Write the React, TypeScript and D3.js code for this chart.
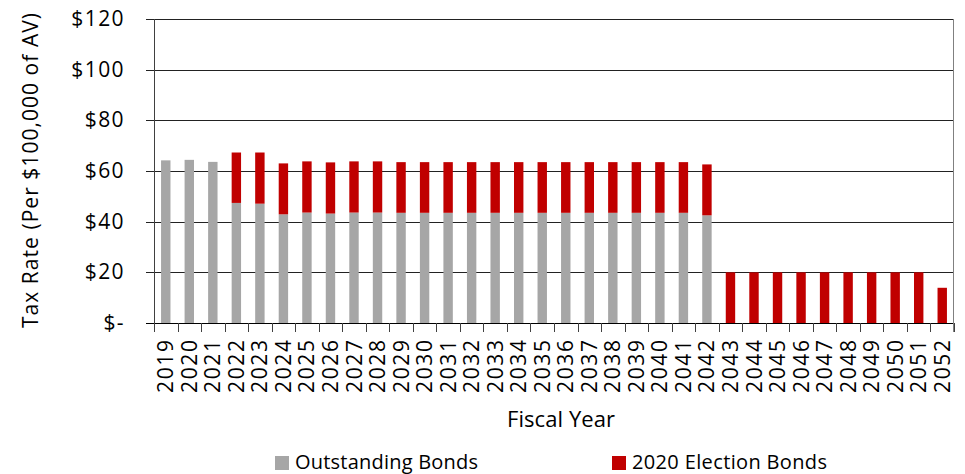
import React from "react";
import * as d3 from "d3";

const years: string[] = [
  "2019","2020","2021","2022","2023","2024","2025","2026","2027","2028","2029","2030",
  "2031","2032","2033","2034","2035","2036","2037","2038","2039","2040","2041","2042",
  "2043","2044","2045","2046","2047","2048","2049","2050","2051","2052",
];
const outstanding: number[] = [
  64.2, 64.4, 63.6, 47.4, 47.1, 42.9, 43.6, 43.2, 43.6, 43.6, 43.5, 43.5,
  43.5, 43.5, 43.5, 43.5, 43.5, 43.5, 43.5, 43.5, 43.5, 43.5, 43.5, 42.5,
  0, 0, 0, 0, 0, 0, 0, 0, 0, 0,
];
const election: number[] = [
  0, 0, 0, 19.9, 20.2, 20.1, 20.2, 20.2, 20.2, 20.2, 20.0, 20.0,
  20.0, 20.0, 20.0, 20.0, 20.0, 20.0, 20.0, 20.0, 20.0, 20.0, 20.0, 20.1,
  20.0, 20.0, 20.0, 20.0, 20.0, 20.0, 20.0, 20.0, 20.0, 13.9,
];
const yTicks: number[] = [0, 20, 40, 60, 80, 100, 120];
const yTickLabels: string[] = ["$-", "$20", "$40", "$60", "$80", "$100", "$120"];
const seriesNames: string[] = ["Outstanding Bonds", "2020 Election Bonds"];
const seriesColors: string[] = ["#A6A6A6", "#C00000"];

const FONT = "'Open Sans', 'Noto Sans', sans-serif";

export default function App() {
  const W = 965, H = 474;
  const left = 154, right = 954, top = 19, bottom = 323;
  const x = d3.scaleBand<string>().domain(years).range([left, right]).paddingInner(0.6).paddingOuter(0.3);
  const y = d3.scaleLinear().domain([0, 120]).range([bottom, top]);
  const step = x.step();
  const data = years.map((yr, i) => ({ year: yr, outstanding: outstanding[i], election: election[i] }));
  const stack = d3.stack<any>().keys(["outstanding", "election"])(data);

  return (
    <svg width={W} height={H} style={{ position: "absolute", left: 0, top: 0, fontFamily: FONT }}>
      <rect width={W} height={H} fill="#fff" />
      {yTicks.map((t) => (
        <line key={"g" + t} x1={left - 8} x2={right} y1={Math.round(y(t)) + 0.5} y2={Math.round(y(t)) + 0.5}
          stroke={t === 0 ? "#000" : "#222"} strokeWidth={1} />
      ))}
      <line x1={right - 0.5} x2={right - 0.5} y1={top} y2={bottom + 9} stroke="#808080" strokeWidth={1} />
      {stack.map((s, si) =>
        s.map((d, i) => {
          const h = y(d[0]) - y(d[1]);
          if (h <= 0) return null;
          return (
            <rect key={si + "-" + i} x={x(years[i])} y={y(d[1])} width={x.bandwidth()} height={h}
              fill={seriesColors[si]} />
          );
        })
      )}
      <line x1={left + 0.5} x2={left + 0.5} y1={top} y2={bottom + 9} stroke="#404040" strokeWidth={1} />
      {d3.range(years.length + 1).map((i) => (
        <line key={"xt" + i} x1={Math.round(left + i * step) + 0.5} x2={Math.round(left + i * step) + 0.5}
          y1={bottom} y2={bottom + 9} stroke="#404040" strokeWidth={1} />
      ))}
      {yTicks.map((t, i) => (
        <text key={"yl" + t} x={125} y={y(t) + 7} textAnchor="end" fontSize={21} letterSpacing={1.4} fill="#000">
          {yTickLabels[i]}
        </text>
      ))}
      {years.map((yr) => {
        const cx = (x(yr) as number) + x.bandwidth() / 2;
        return (
          <text key={"xl" + yr} transform={`translate(${cx + 7.5},${340}) rotate(-90)`} textAnchor="end"
            fontSize={21} textLength={53} lengthAdjust="spacing" fill="#000">
            {yr}
          </text>
        );
      })}
      <text transform={`translate(${37.5},${170.5}) rotate(-90)`} textAnchor="middle" fontSize={21}
        textLength={315} lengthAdjust="spacing" fill="#000">
        Tax Rate (Per $100,000 of AV)
      </text>
      <text x={561} y={427} textAnchor="middle" fontSize={22} textLength={108} lengthAdjust="spacing" fill="#000">
        Fiscal Year
      </text>
      <rect x={275} y={456} width={14} height={14} fill={seriesColors[0]} />
      <text x={295} y={469} fontSize={20} textLength={183} lengthAdjust="spacing" fill="#000">{seriesNames[0]}</text>
      <rect x={612} y={456} width={14} height={14} fill={seriesColors[1]} />
      <text x={632} y={469} fontSize={20} textLength={195} lengthAdjust="spacing" fill="#000">{seriesNames[1]}</text>
    </svg>
  );
}
